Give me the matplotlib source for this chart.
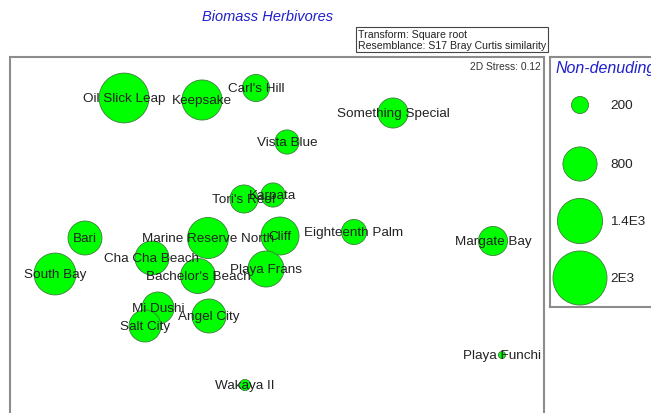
import matplotlib
matplotlib.use("Agg")
import matplotlib.pyplot as plt
import numpy as np

plt.rcParams['font.family'] = ['Liberation Sans', 'DejaVu Sans']

# ---- data ----
sites = ["Oil Slick Leap", "Keepsake", "Carl's Hill", "Vista Blue", "Something Special",
         "Tori's Reef", "Karpata", "Bari", "Marine Reserve North", "Cliff",
         "Eighteenth Palm", "Margate Bay", "Cha Cha Beach", "South Bay", "Playa Frans",
         "Bachelor's Beach", "Mi Dushi", "Angel City", "Salt City", "Playa Funchi", "Wakaya II"]
mds_x = [-1.53, -0.75, -0.21, 0.10, 1.16, -0.33, -0.04, -1.92, -0.69, 0.03,
         0.77, 2.16, -1.25, -2.22, -0.11, -0.79, -1.19, -0.68, -1.32, 2.25, -0.32]
mds_y = [1.37, 1.35, 1.47, 0.93, 1.22, 0.36, 0.40, -0.03, -0.03, -0.01,
         0.03, -0.06, -0.23, -0.39, -0.34, -0.41, -0.73, -0.81, -0.91, -1.20, -1.50]
biomass = [1700, 1100, 500, 400, 620, 540, 400, 790, 1150, 990,
           430, 580, 790, 1200, 890, 840, 700, 790, 700, 35, 85]

legend_values = [200, 800, 1400, 2000]
legend_labels = ["200", "800", "1.4E3", "2E3"]

W, H = 651, 414
fig = plt.figure(figsize=(W / 100, H / 100), dpi=100)

SIZE_SCALE = 0.7566  # points^2 per biomass unit
FACE = "#00ff00"
EDGE = "#3c7d3c"
SPINE = "#8c8c8c"

def px_box(x0, y0, x1, y1):
    return [x0 / W, (H - y1) / H, (x1 - x0) / W, (y1 - y0) / H]

# ---- main MDS axes ----
ax = fig.add_axes(px_box(10, 58, 544, 416))
ax.scatter(mds_x, mds_y, s=np.array(biomass) * SIZE_SCALE, c=FACE,
           edgecolors=EDGE, linewidths=0.6, zorder=2)
for name, x, y in zip(sites, mds_x, mds_y):
    ax.text(x, y, name, ha="center", va="center", fontsize=9.7,
            color="#222222", zorder=3)
ax.set_xlim(-2.67, 2.67)
ax.set_ylim(-1.80, 1.78)
ax.set_xticks([])
ax.set_yticks([])
for sp in ax.spines.values():
    sp.set_color(SPINE)
    sp.set_linewidth(1.5)
ax.text(0.993, 0.975, "2D Stress: 0.12", transform=ax.transAxes, ha="right",
        va="center", fontsize=7.4, color="#333333")

# ---- title and info box ----
fig.text(268 / W, 1 - 17 / H, "Biomass Herbivores", ha="center", va="center",
         fontsize=10.5, style="italic", color="#1f1fcc")
fig.text(358 / W, 1 - 40.5 / H,
         "Transform: Square root\nResemblance: S17 Bray Curtis similarity",
         ha="left", va="center", fontsize=7.6, color="#222222", linespacing=1.1,
         bbox=dict(boxstyle="square,pad=0.2", fc="white", ec="#444444", lw=0.8))

# ---- bubble legend ----
lax = fig.add_axes(px_box(550, 58, 670, 308))
lax.set_xlim(0, 120)
lax.set_ylim(250, 0)
lax.set_xticks([])
lax.set_yticks([])
for sp in lax.spines.values():
    sp.set_color(SPINE)
    sp.set_linewidth(1.5)
leg_y = [48, 107, 164, 221]
lax.scatter([30] * len(legend_values), leg_y, s=np.array(legend_values) * SIZE_SCALE,
            c=FACE, edgecolors=EDGE, linewidths=0.6, clip_on=False)
for yy, lab in zip(leg_y, legend_labels):
    lax.text(60, yy, lab, ha="left", va="center", fontsize=9.7, color="#222222")
lax.text(5, 11, "Non-denuding", ha="left", va="center", fontsize=11.5,
         style="italic", color="#1f1fcc")

fig.savefig("out.png", dpi=100)
